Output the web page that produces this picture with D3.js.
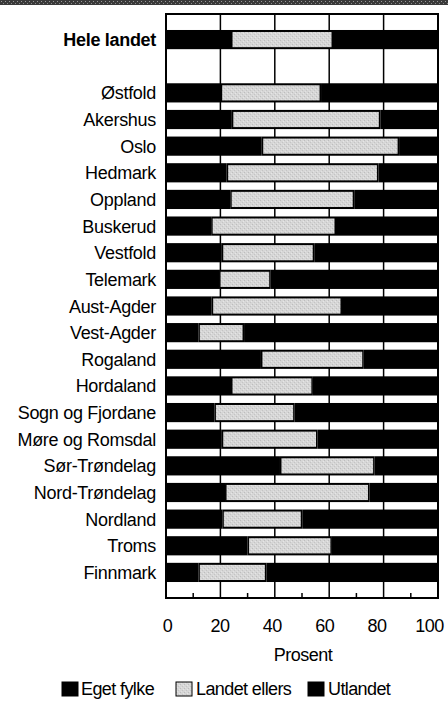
<!DOCTYPE html>
<html>
<head>
<meta charset="utf-8">
<script src="https://cdn.jsdelivr.net/npm/d3@7"></script>
<style>
  html, body { margin: 0; padding: 0; background: #fff; }
  svg { display: block; }
  text { font-family: "Liberation Sans", Arial, Helvetica, sans-serif; fill: #000; }
</style>
</head>
<body>
<svg id="chart" width="448" height="710"></svg>
<script>
// ---- Data (percent) ----
const categories = ["Hele landet", "Østfold", "Akershus", "Oslo", "Hedmark", "Oppland", "Buskerud",
  "Vestfold", "Telemark", "Aust-Agder", "Vest-Agder", "Rogaland", "Hordaland", "Sogn og Fjordane",
  "Møre og Romsdal", "Sør-Trøndelag", "Nord-Trøndelag", "Nordland", "Troms", "Finnmark"];
const egetFylke    = [23.9, 20.1, 24.2, 35.2, 22.3, 23.6, 16.6, 20.5, 19.5, 16.8, 11.9, 34.9, 23.9, 17.8, 20.5, 41.9, 21.7, 20.7, 30.0, 11.9];
const landetEllers = [37.5, 36.9, 54.6, 50.5, 55.8, 45.6, 45.9, 34.0, 19.0, 47.9, 16.8, 37.8, 30.1, 29.5, 35.2, 34.8, 53.1, 29.4, 31.0, 25.0];
const utlandet     = egetFylke.map((v, i) => +(100 - v - landetEllers[i]).toFixed(1));
const tickValues   = [0, 20, 40, 60, 80, 100];
const minorTicks   = [10, 30, 50, 70, 90];
const seriesNames  = ["Eget fylke", "Landet ellers", "Utlandet"];
const axisTitle    = "Prosent";

// ---- Layout ----
const svg = d3.select("#chart");
const plot = { left: 166, right: 438, top: 14, bottom: 598 };

// rows include a blank spacer after "Hele landet"
const rows = [categories[0], "__blank__", ...categories.slice(1)];

const x = d3.scaleLinear().domain([0, 100]).range([plot.left, plot.right]);
const xLabel = d3.scaleLinear().domain([0, 100]).range([167, 429]);
const y = d3.scaleBand().domain(rows).range([plot.top, plot.bottom])
  .paddingInner(0.28).paddingOuter(0.6);

// patterns
const defs = svg.append("defs");
const pat = defs.append("pattern").attr("id", "dots").attr("patternUnits", "userSpaceOnUse")
  .attr("width", 4).attr("height", 4);
pat.append("rect").attr("width", 4).attr("height", 4).attr("fill", "#d6d6d6");
pat.append("rect").attr("x", 0).attr("y", 0).attr("width", 1).attr("height", 1).attr("fill", "#bdbdbd");
pat.append("rect").attr("x", 2).attr("y", 2).attr("width", 1).attr("height", 1).attr("fill", "#c4c4c4");
pat.append("rect").attr("x", 3).attr("y", 1).attr("width", 1).attr("height", 1).attr("fill", "#e6e6e6");
pat.append("rect").attr("x", 1).attr("y", 3).attr("width", 1).attr("height", 1).attr("fill", "#e2e2e2");

const patTop = defs.append("pattern").attr("id", "topstrip").attr("patternUnits", "userSpaceOnUse")
  .attr("width", 4).attr("height", 4);
patTop.append("rect").attr("width", 4).attr("height", 4).attr("fill", "#3a3a3a");
patTop.append("rect").attr("x", 1).attr("y", 1).attr("width", 1).attr("height", 1).attr("fill", "#999");
patTop.append("rect").attr("x", 3).attr("y", 3).attr("width", 1).attr("height", 1).attr("fill", "#888");

// top scanned strip
svg.append("rect").attr("x", 0).attr("y", 0).attr("width", 448).attr("height", 5)
  .attr("fill", "url(#topstrip)");

// frame background
svg.append("rect").attr("x", plot.left).attr("y", plot.top)
  .attr("width", plot.right - plot.left).attr("height", plot.bottom - plot.top)
  .attr("fill", "#fff");

// grid lines
svg.append("g").selectAll("line").data(tickValues.slice(1, -1)).join("line")
  .attr("x1", d => x(d)).attr("x2", d => x(d))
  .attr("y1", plot.top).attr("y2", plot.bottom)
  .attr("stroke", "#000").attr("stroke-width", 1.5);

// bars
const data = categories.map((c, i) => ({ c, a: egetFylke[i], b: landetEllers[i], u: utlandet[i] }));
const g = svg.append("g");
// Eget fylke
g.selectAll("rect.eget").data(data).join("rect").attr("class", "eget")
  .attr("x", x(0)).attr("y", d => y(d.c))
  .attr("width", d => x(d.a) - x(0)).attr("height", y.bandwidth())
  .attr("fill", "#000");
// Utlandet
g.selectAll("rect.utl").data(data).join("rect").attr("class", "utl")
  .attr("x", d => x(d.a + d.b)).attr("y", d => y(d.c))
  .attr("width", d => x(100) - x(d.a + d.b)).attr("height", y.bandwidth())
  .attr("fill", "#000");
// Landet ellers (framed black)
g.selectAll("rect.landbg").data(data).join("rect").attr("class", "landbg")
  .attr("x", d => x(d.a)).attr("y", d => y(d.c))
  .attr("width", d => x(d.a + d.b) - x(d.a)).attr("height", y.bandwidth())
  .attr("fill", "#000");
g.selectAll("rect.land").data(data).join("rect").attr("class", "land")
  .attr("x", d => x(d.a) + 1.5).attr("y", d => y(d.c) + 2)
  .attr("width", d => x(d.a + d.b) - x(d.a) - 3).attr("height", y.bandwidth() - 4)
  .attr("fill", "url(#dots)");

// frame border
svg.append("rect").attr("x", plot.left).attr("y", plot.top)
  .attr("width", plot.right - plot.left).attr("height", plot.bottom - plot.top)
  .attr("fill", "none").attr("stroke", "#000").attr("stroke-width", 2);

// minor ticks at bottom
svg.append("g").selectAll("line").data(minorTicks).join("line")
  .attr("x1", d => x(d)).attr("x2", d => x(d))
  .attr("y1", plot.bottom).attr("y2", plot.bottom - 5)
  .attr("stroke", "#000").attr("stroke-width", 1.5);

// category labels
svg.append("g").selectAll("text").data(categories).join("text")
  .attr("x", 156).attr("y", d => y(d) + y.bandwidth() / 2 + 6.5)
  .attr("text-anchor", "end")
  .attr("font-size", 18).attr("letter-spacing", -0.3)
  .attr("font-weight", (d, i) => i === 0 ? "bold" : "normal")
  .text(d => d);

// x tick labels
const xAxis = d3.axisBottom(xLabel).tickValues(tickValues).tickSize(0).tickPadding(0);
const ax = svg.append("g").attr("transform", "translate(0,618)").call(xAxis);
ax.select(".domain").remove();
ax.selectAll("text").attr("font-size", 18).attr("letter-spacing", -0.5)
  .attr("dy", "0.75em").attr("y", 0)
  .style("font-family", '"Liberation Sans", Arial, sans-serif').attr("fill", "#000");

// axis title
svg.append("text").attr("x", 303).attr("y", 661).attr("text-anchor", "middle")
  .attr("font-size", 18).attr("letter-spacing", -0.5).text(axisTitle);

// legend
const legendItems = [
  { name: seriesNames[0], fill: "#000", bx: 62, tx: 81 },
  { name: seriesNames[1], fill: "url(#dots)", bx: 176, tx: 196 },
  { name: seriesNames[2], fill: "#000", bx: 308, tx: 328 }
];
const lg = svg.append("g");
lg.selectAll("rect").data(legendItems).join("rect")
  .attr("x", d => d.bx).attr("y", 682).attr("width", 16).attr("height", 14)
  .attr("fill", d => d.fill).attr("stroke", "#000").attr("stroke-width", 1);
lg.selectAll("text").data(legendItems).join("text")
  .attr("x", d => d.tx).attr("y", 695)
  .attr("font-size", 18).attr("letter-spacing", -0.6).text(d => d.name);
</script>
</body>
</html>
